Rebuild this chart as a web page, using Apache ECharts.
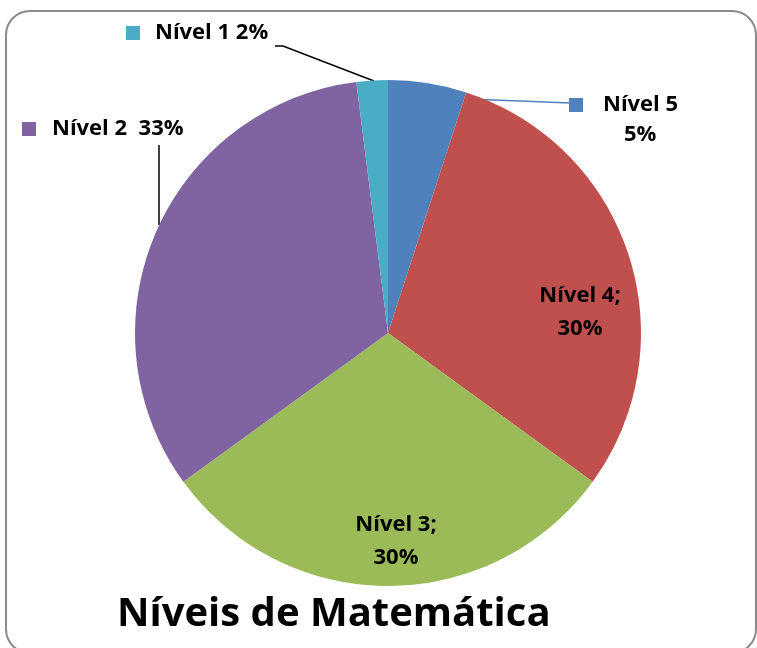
<!DOCTYPE html>
<html>
<head>
<meta charset="utf-8">
<script src="https://cdn.jsdelivr.net/npm/echarts@6/dist/echarts.min.js"></script>
<style>
  html, body { margin: 0; padding: 0; background: #fff; }
  #chart { width: 757px; height: 648px; }
</style>
</head>
<body>
<div id="chart"></div>
<script>
// níveis, do topo no sentido horário
const categories = ["Nível 5", "Nível 4", "Nível 3", "Nível 2", "Nível 1"];
const values = [5, 30, 30, 33, 2];
const colors = ["#4F81BD", "#C0504D", "#9BBB59", "#8064A2", "#4BACC6"];

// onde fica cada rótulo (estilo Excel)
const labelPlaces = {
  "Nível 5": { x: 569, y: 90, align: "left", vAlign: "top", line: [[467, 99], [520, 101], [570, 103]] },
  "Nível 4": { x: 580, y: 312, align: "center", vAlign: "middle" },
  "Nível 3": { x: 396, y: 541, align: "center", vAlign: "middle" },
  "Nível 2": { x: 22, y: 129, align: "left", vAlign: "middle", line: [[159, 225], [159, 185], [159, 145]] },
  "Nível 1": { x: 126, y: 33, align: "left", vAlign: "middle", line: [[374, 81], [283, 46], [275, 46]] }
};

const FONT = "'Open Sans', 'Noto Sans', sans-serif";
const FS = 22;

const chart = echarts.init(document.getElementById("chart"));

const seriesData = categories.map(function (name, i) {
  const item = {
    name: name,
    value: values[i],
    itemStyle: { color: colors[i] }
  };
  if (name === "Nível 4" || name === "Nível 3") {
    item.labelLine = { show: false };
  } else if (name === "Nível 5") {
    item.labelLine = { show: true, lineStyle: { color: colors[i], width: 1.5 } };
  } else {
    item.labelLine = { show: true, lineStyle: { color: "#000", width: 1.5 } };
  }
  return item;
});

function txt(padLeft) {
  return { padding: [0, 0, 0, padLeft], fontFamily: FONT, fontWeight: "bold", fontSize: FS, lineHeight: 30, color: "#000" };
}

chart.setOption({
  backgroundColor: "#fff",
  title: {
    text: "Níveis de Matemática",
    left: 112,
    top: 590,
    textStyle: {
      fontFamily: FONT,
      fontWeight: "bold",
      fontSize: 40,
      color: "#000"
    }
  },
  graphic: [
    {
      type: "rect",
      shape: { x: 6, y: 11, width: 750, height: 642, r: 24 },
      style: { fill: "none", stroke: "#8a8a8a", lineWidth: 2 },
      silent: true
    }
  ],
  series: [
    {
      type: "pie",
      center: [388, 333],
      radius: 253,
      startAngle: 90,
      clockwise: true,
      avoidLabelOverlap: false,
      itemStyle: { borderWidth: 0 },
      label: {
        show: true,
        position: "outside",
        color: "#000",
        fontFamily: FONT,
        fontWeight: "bold",
        fontSize: FS,
        lineHeight: 33,
        formatter: function (p) {
          const pct = Math.round(p.percent) + "%";
          if (p.name === "Nível 5") return "{sq5|}{t5|" + p.name + "}\n{p5|" + pct + "}";
          if (p.name === "Nível 1") return "{sq1|}{t1|" + p.name + " " + pct + "}";
          if (p.name === "Nível 2") return "{sq2|}{t2|" + p.name + "  " + pct + "}";
          return p.name + ";\n" + pct;
        },
        rich: {
          sq5: { width: 14, height: 14, backgroundColor: colors[0], lineHeight: 30 },
          t5: txt(20),
          p5: txt(55),
          sq1: { width: 14, height: 14, backgroundColor: colors[4], lineHeight: 30 },
          t1: txt(15),
          sq2: { width: 14, height: 14, backgroundColor: colors[3], lineHeight: 30 },
          t2: txt(16)
        }
      },
      labelLine: { show: true, length: 10, length2: 10 },
      labelLayout: function (params) {
        const place = labelPlaces[categories[params.dataIndex]];
        const out = {
          x: place.x,
          y: place.y,
          align: place.align,
          verticalAlign: place.vAlign
        };
        if (place.line) out.labelLinePoints = place.line;
        return out;
      },
      emphasis: { disabled: true },
      data: seriesData
    }
  ]
});
</script>
</body>
</html>
